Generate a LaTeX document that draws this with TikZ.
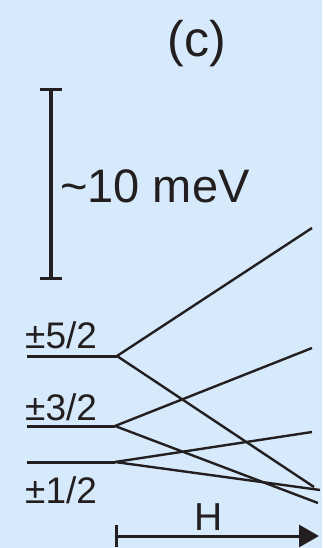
\documentclass[tikz,border=0pt]{standalone}
\usepackage{fontspec}
\setmainfont{Liberation Sans}
\usepackage{tikz}
\usetikzlibrary{arrows.meta}
\definecolor{panelbg}{RGB}{214,234,251}
\definecolor{ink}{RGB}{35,31,32}

\begin{document}
\begin{tikzpicture}[x=1pt, y=-1pt, level/.style={draw=ink, line width=3pt}, branch/.style={draw=ink, line width=2.4pt}, lbl/.style={inner sep=0pt, text=ink, anchor=base west, font=\fontsize{37}{40}\selectfont}]
\fill[panelbg] (0,0) rectangle (322,548);
\useasboundingbox (0,0) rectangle (322,548);

\node (title) [inner sep=0pt, text=ink, anchor=base, font=\fontsize{50}{54}\selectfont] at (197,57) {(c)};

% scale bar
\coordinate (bartop) at (51,88);
\coordinate (barbot) at (51,280);
\draw[ink, line width=3.2pt, {Bar[width=22pt]}-{Bar[width=22pt]}] (bartop) -- (barbot);
\node (scale) [inner sep=0pt, text=ink, anchor=base west, font=\fontsize{47}{50}\selectfont] at (60,202) {\textasciitilde10 meV};

% zero field levels
\coordinate (l52) at (27,356);
\coordinate (l32) at (27,426);
\coordinate (l12) at (27,462);
\coordinate (s52) at (117,356);
\coordinate (s32) at (115,426);
\coordinate (s12) at (115,462);
\node (m52) [lbl] at (25,348) {±5/2};
\node (m32) [lbl] at (25,420) {±3/2};
\node (m12) [lbl] at (25,503) {±1/2};

\draw[level] (l52) -- (s52);
\draw[level] (l32) -- (s32);
\draw[level] (l12) -- (s12);

% Zeeman branches
\coordinate (u52) at (312,228);
\coordinate (d52) at (314,487);
\coordinate (u32) at (312,348);
\coordinate (d32) at (318,503);
\coordinate (u12) at (312,432);
\coordinate (d12) at (320,490);
\draw[branch] (s52) -- (u52);
\draw[branch] (s52) -- (d52);
\draw[branch] (s32) -- (u32);
\draw[branch] (s32) -- (d32);
\draw[branch] (s12) -- (u12);
\draw[branch] (s12) -- (d12);

% field axis
\coordinate (h0) at (115,536);
\coordinate (h1) at (319,536);
\draw[ink, line width=3pt, {Bar[width=22pt]}-{Triangle[length=20pt,width=22pt]}] (h0) -- (h1);
\node (field) [inner sep=0pt, text=ink, anchor=base, font=\fontsize{39}{42}\selectfont] at (208.5,530) {H};
\end{tikzpicture}
\end{document}
